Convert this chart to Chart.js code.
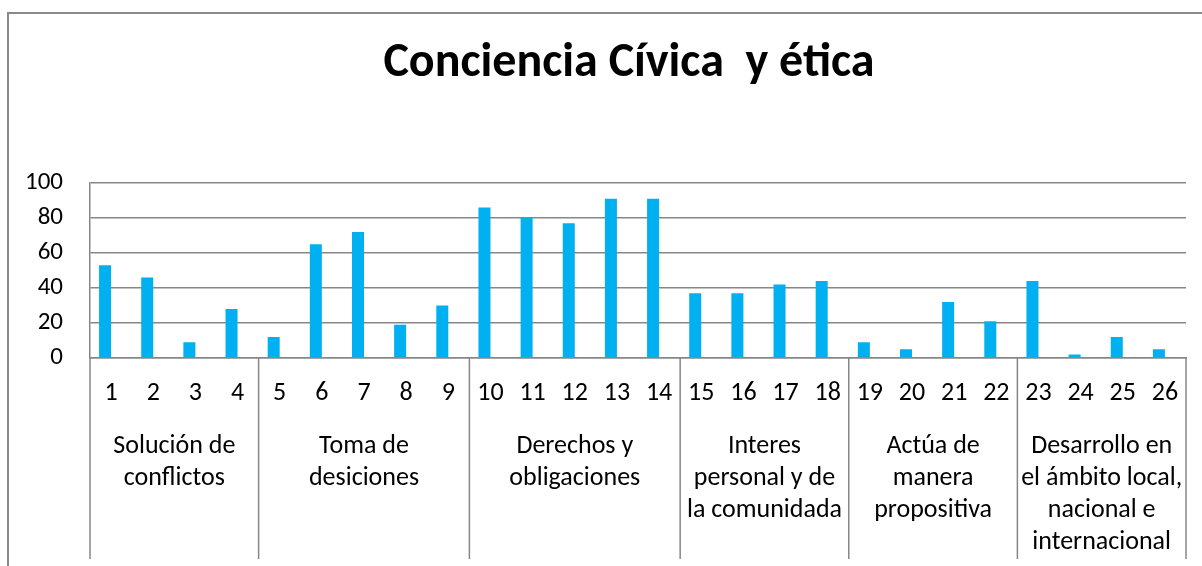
<!DOCTYPE html>
<html>
<head>
<meta charset="utf-8">
<script src="https://cdn.jsdelivr.net/npm/chart.js@4"></script>
<style>
  html, body { margin: 0; padding: 0; background: #fff; overflow: hidden; }
  #marco { position: absolute; left: 7px; top: 12px; width: 1300px; height: 600px;
           border-left: 2px solid #898989; border-top: 2px solid #898989; }
  #grafico { position: absolute; left: 0; top: 0; }
</style>
</head>
<body>
<div id="marco"></div>
<canvas id="grafico" width="1238" height="566"></canvas>
<script>
// preguntas del cuestionario (eje x) y porcentaje obtenido
const preguntas = ['1','2','3','4','5','6','7','8','9','10','11','12','13','14','15','16','17','18','19','20','21','22','23','24','25','26'];
const porcentajes = [53, 46, 9, 28, 12, 65, 72, 19, 30, 86, 80, 77, 91, 91, 37, 37, 42, 44, 9, 5, 32, 21, 44, 2, 12, 5];
const serie2 = []; // serie vacia en la hoja original

// agrupacion por competencia
const grupos = [
    ['Solución de', 'conflictos'],
    ['Toma de', 'desiciones'],
    ['Derechos y', 'obligaciones'],
    ['Interes', 'personal y de', 'la comunidada'],
    ['Actúa de', 'manera', 'propositiva'],
    ['Desarrollo en', 'el ámbito local,', 'nacional e', 'internacional']
];
const limitesGrupo = [0, 4, 9, 14, 18, 22, 26];
const centrosGrupo = limitesGrupo.slice(1).map((v, i) => (v + limitesGrupo[i]) / 2);

const fuente = 'Carlito, Lato, sans-serif';
const gris = '#878787';

// lineas verticales que separan los grupos debajo del eje
const separadores = {
    id: 'separadores',
    afterDraw(chart) {
        const g = chart.scales.grupos;
        const ctx = chart.ctx;
        ctx.save();
        ctx.strokeStyle = gris;
        ctx.lineWidth = 1.5;
        limitesGrupo.forEach(v => {
            const x = g.getPixelForValue(v);
            ctx.beginPath();
            ctx.moveTo(x, chart.chartArea.bottom);
            ctx.lineTo(x, g.bottom);
            ctx.stroke();
        });
        ctx.restore();
    }
};

new Chart(document.getElementById('grafico'), {
    type: 'bar',
    data: {
        labels: preguntas,
        datasets: [
            { label: 'Serie 1', data: porcentajes, backgroundColor: '#00B0F0', categoryPercentage: 0.57, barPercentage: 1 },
            { label: 'Serie 2', data: serie2, backgroundColor: '#C0504D', categoryPercentage: 0.57, barPercentage: 1 }
        ]
    },
    plugins: [separadores],
    options: {
        responsive: false,
        animation: false,
        layout: { padding: { left: 20, right: 0, top: 0, bottom: 7 } },
        plugins: {
            legend: { display: false },
            tooltip: { enabled: false },
            title: {
                display: true,
                text: 'Conciencia Cívica  y ética',
                color: '#000',
                font: { family: fuente, size: 48, weight: 'bold', lineHeight: 1.2 },
                padding: { top: 35, bottom: 90.4 }
            }
        },
        scales: {
            y: {
                min: 0,
                max: 100,
                ticks: { stepSize: 20, padding: 27, color: '#000', autoSkip: false, font: { family: fuente, size: 25 } },
                grid: { color: gris, lineWidth: 1.5, drawTicks: false },
                border: { display: true, color: gris, width: 1.5 },
                afterFit: s => { s.width = 70; }
            },
            derecha: {
                type: 'linear',
                position: 'right',
                ticks: { display: false },
                grid: { display: false, drawTicks: false },
                border: { display: false },
                afterFit: s => { s.width = 52; }
            },
            x: {
                position: 'bottom',
                grid: { display: false, drawTicks: false },
                border: { display: true, color: gris, width: 1.5 },
                ticks: { padding: 19.4, color: '#000', autoSkip: false, maxRotation: 0, font: { family: fuente, size: 26, lineHeight: 1.2 } },
                afterFit: s => { s.height = 50.6; }
            },
            grupos: {
                type: 'linear',
                position: 'bottom',
                offset: false,
                min: 0,
                max: 26,
                grid: { display: false, drawTicks: false },
                border: { display: false },
                afterBuildTicks: s => { s.ticks = limitesGrupo.concat(centrosGrupo).sort((a, b) => a - b).map(v => ({ value: v })); },
                ticks: {
                    autoSkip: false,
                    maxRotation: 0,
                    padding: 21.4,
                    color: '#000',
                    font: { family: fuente, size: 26, lineHeight: 32 / 26 },
                    callback: v => {
                        const i = centrosGrupo.indexOf(v);
                        return i >= 0 ? grupos[i] : '';
                    }
                },
                afterFit: s => { s.height = 150.4; }
            }
        }
    }
});
</script>
</body>
</html>
